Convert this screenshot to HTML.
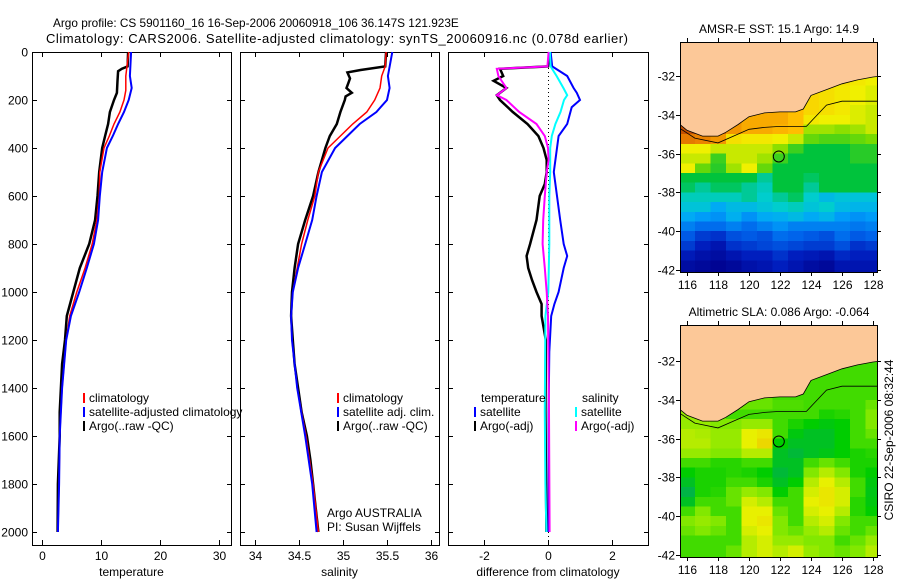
<!DOCTYPE html>
<html><head><meta charset="utf-8"><style>
html,body{margin:0;padding:0;background:#fff;}
svg{display:block;font-family:"Liberation Sans",sans-serif;}
</style></head><body>
<svg id="fig" width="900" height="580" viewBox="0 0 900 580"></svg>
<script>
// ---------- data ----------
const tDepth = [0,60,70,80,120,170,200,250,300,350,400,500,600,700,800,900,1000,1100,1200,1300,1400,1500,1600,1800,2000];
const tArgo  = [14.6,14.5,13.5,12.9,12.8,12.7,12.2,11.5,11.2,10.7,10.2,9.7,9.4,9.0,8.0,6.4,5.3,4.2,3.9,3.4,3.2,3.0,3.0,2.7,2.65];
const tClimDepth = [0,100,160,200,250,300,350,400,500,600,700,800,900,1000,1100,1200,1400,1600,1800,2000];
const tClim  = [14.7,14.2,14.2,13.9,13.2,12.2,11.4,10.5,9.8,9.7,9.3,8.5,7.3,5.9,4.7,4.1,3.4,3.0,2.9,2.7];
const tSatDepth = [0,100,150,200,250,300,350,400,500,600,700,800,900,1000,1100,1200,1400,1600,1800,2000];
const tSat   = [15.1,14.9,15.2,14.7,13.9,12.9,12.0,11.0,10.2,9.8,9.5,8.8,7.6,6.3,4.9,4.1,3.4,3.0,2.9,2.7];

const sArgoDepth = [0,60,75,85,110,130,150,170,185,200,250,300,350,400,500,600,700,800,900,1000,1100,1200,1300,1400,1500,1600,1700,1800,1900,2000];
const sArgo  = [35.49,35.48,35.2,35.05,35.08,35.06,35.04,35.1,35.03,35.02,34.97,34.93,34.85,34.8,34.72,34.66,34.57,34.49,34.45,34.42,34.41,34.43,34.45,34.49,34.53,34.59,34.63,34.66,34.69,34.72];
const sClimDepth = [0,60,100,150,200,250,300,350,400,500,600,700,800,900,1000,1100,1200,1400,1600,1800,2000];
const sClim  = [35.49,35.48,35.44,35.42,35.36,35.27,35.11,34.97,34.83,34.72,34.68,34.6,34.53,34.48,34.43,34.41,34.42,34.48,34.58,34.66,34.72];
const sSatDepth = [0,100,150,200,250,300,350,400,500,600,700,800,900,1000,1100,1200,1400,1600,1800,2000];
const sSat   = [35.56,35.51,35.53,35.5,35.38,35.19,35.05,34.91,34.76,34.7,34.65,34.57,34.49,34.43,34.41,34.42,34.48,34.57,34.65,34.7];

const dTempArgoDepth = [0,60,70,100,120,150,180,200,250,300,350,400,450,500,550,600,700,800,850,900,950,1000,1050,1100,1200,1500,2000];
const dTempArgo = [0.04,0.0,-1.5,-1.4,-1.7,-1.3,-1.6,-1.5,-1.1,-0.64,-0.3,-0.14,-0.04,-0.04,-0.1,-0.26,-0.36,-0.56,-0.67,-0.62,-0.5,-0.36,-0.2,-0.2,-0.07,-0.08,-0.05];
const dTempSatDepth = [0,60,100,150,170,200,230,300,350,400,500,600,700,800,850,900,1000,1050,1100,1250,1500,2000];
const dTempSat = [0.08,0.13,0.6,0.8,0.9,1.0,0.74,0.6,0.33,0.28,0.18,0.28,0.38,0.49,0.6,0.49,0.33,0.2,0.1,0.04,0.02,0.02];
const dSalSatDepth = [0,60,100,150,180,200,250,300,350,400,500,600,800,1000,1100,1500,1800,2000];
const dSalSat = [0.06,0.08,0.27,0.48,0.6,0.5,0.39,0.23,0.12,0.07,0.07,0.04,0.04,0.01,-0.08,-0.1,-0.08,-0.05];
const dSalArgoDepth = [0,60,70,100,120,150,180,200,250,300,350,400,450,500,600,700,800,900,1000,1100,1500,2000];
const dSalArgo = [0.02,-0.02,-1.6,-1.55,-1.45,-1.3,-1.6,-1.3,-0.9,-0.36,-0.1,0.0,0.02,-0.04,-0.1,-0.15,-0.17,-0.1,-0.04,0.0,0.03,0.05];

const depthTicks = [0,200,400,600,800,1000,1200,1400,1600,1800,2000];
const tempTicks = [0,10,20,30];
const salTicks = [34,34.5,35,35.5,36];
const salTickLabels = ["34","34.5","35","35.5","36"];
const diffTicks = [-2,0,2];
const lonTicks = [116,118,120,122,124,126,128];
const latTicks = [-32,-34,-36,-38,-40,-42];

const mapLons = [116,117,118,119,120,121,122,123,124,125,126,127,128];
const sstGrid = [
[17,17,17,17,17,17,17,17,17,16.6,16.4,16.3,16.2],
[17,17,17,17,17,17,17,17,16.5,16.4,16.3,16.2,16.1],
[17,17,17,17,17,17,17,17,16.5,16.4,16.3,16.2,16.1],
[17,17,17,17,17,17,17,16.8,16.5,16.4,16.3,16.1,16],
[17.6,17.6,17.5,17.2,17,17,17,16.8,16.3,16.2,16.2,16.1,16],
[18,18,17.8,17.2,17,17,16.9,16.8,15.8,15.8,15.7,15.8,16],
[17.5,17.4,17.2,16.4,16.3,16.3,16.2,16.0,15.5,15.4,15.4,15.5,15.6],
[16.2,16.2,16.0,16,16,16,15.7,15.3,15,15,15,15.2,15.2],
[16,16,15.3,16,16,15.8,15.3,15,15,15,15,15.2,15.2],
[16.2,15.5,15.2,15.8,16.2,15.5,15,15,15,15,15,15,15],
[15,15,15,15,15,14.5,15,15,14.8,15,15,15,15],
[14.8,14.5,14.8,14.8,14.5,14.3,15,15,14.5,15,15,15,15],
[14.3,14.3,14.3,14.3,14.5,14.2,14.5,14.8,14.2,13.8,14,14,14],
[14,14,13.5,13.8,13.8,14,14.2,14.3,14,14.2,13.8,13.7,13.7],
[13.5,13.3,13.2,13.6,13.2,13.5,13.6,13.8,13.5,13.7,13.3,13.2,13.3],
[13,12.8,12.8,13,12.8,13,13.2,13,13,13,13,12.9,13],
[12.6,12.3,12.2,12.5,12.6,12.5,12.8,12.7,12.6,12.5,12.8,12.6,12.7],
[12.3,12,11.8,12.2,12.3,12.4,12.5,12.4,12.3,12.3,12.5,12.2,12.3],
[11.9,11.7,11.6,11.8,12,12,12.2,12,11.9,11.8,12.1,12,12],
[11.6,11.5,11.4,11.5,11.7,11.8,12,11.8,11.6,11.5,11.8,11.8,11.8],
[11.5,11.4,11.4,11.5,11.6,11.7,11.9,11.7,11.5,11.4,11.7,11.7,11.7]];
const slaGrid = [
[0.05,0.05,0.05,0.05,0.05,0.05,0.05,0.05,0.05,0.05,0.05,0.05,0.05],
[0.05,0.05,0.05,0.05,0.05,0.05,0.05,0.05,0.05,0.05,0.05,0.05,0.05],
[0.05,0.05,0.05,0.05,0.05,0.05,0.05,0.05,0.05,0.05,0.05,0.05,0.05],
[0.08,0.08,0.08,0.08,0.08,0.08,0.05,0.05,0.05,0.05,0.05,0.05,0.05],
[0.1,0.1,0.1,0.1,0.08,0.08,0.06,0.06,0.05,0.05,0.05,0.05,0.08],
[0.12,0.1,0.08,0.05,0.05,0.05,0.05,0.05,0.05,0.02,0.03,0.05,0.1],
[0.12,0.12,0.1,0.1,0.12,0.12,0.05,0.02,0.0,-0.02,0.0,0.05,0.1],
[0.15,0.14,0.12,0.12,0.2,0.22,0.05,-0.02,-0.05,-0.05,0,0.05,0.08],
[0.15,0.15,0.12,0.12,0.2,0.25,0.0,-0.05,-0.05,-0.05,0.0,0.05,0.05],
[0.12,0.12,0.1,0.1,0.15,0.15,-0.05,-0.08,-0.05,-0.03,0,0.02,0.03],
[0.05,0.05,0.03,0.03,0.05,0.05,-0.05,-0.05,0.05,0.08,0.05,0.02,0.02],
[0,0.02,0.02,0.03,0.02,0,-0.08,-0.05,0.1,0.15,0.1,0.02,0.0],
[-0.05,0.02,0.02,0.05,0.05,0.02,-0.05,0.0,0.15,0.2,0.15,0.05,-0.02],
[-0.1,0.02,0.03,0.08,0.12,0.1,0.0,0.05,0.18,0.22,0.18,0.05,-0.03],
[-0.05,0.05,0.05,0.08,0.18,0.15,0.05,0.05,0.2,0.22,0.18,0.03,-0.02],
[0.05,0.1,0.05,0.05,0.2,0.2,0.08,0.05,0.18,0.2,0.15,0.03,0.0],
[0.1,0.12,0.1,0.05,0.2,0.22,0.1,0.05,0.15,0.18,0.1,0.05,0.05],
[0.08,0.1,0.08,0.05,0.18,0.2,0.1,0.08,0.12,0.15,0.08,0.05,0.08],
[0.05,0.05,0.05,0.05,0.15,0.18,0.12,0.12,0.1,0.1,0.05,0.08,0.12],
[0.05,0.05,0.05,0.08,0.15,0.18,0.15,0.18,0.12,0.1,0.08,0.1,0.15],
[0.05,0.05,0.05,0.08,0.15,0.18,0.15,0.18,0.12,0.1,0.08,0.1,0.15]];
const coastLon = [115.4,115.55,116,117,118,118.5,119.3,120,121,122,123,123.5,124,125,126,127,128,128.5];
const coastLat = [-34.4,-34.5,-34.8,-35.1,-35.1,-34.9,-34.5,-34.1,-33.9,-33.85,-33.85,-33.7,-33.0,-32.7,-32.4,-32.2,-32.05,-32.0];
const contLon = [115.55,116.5,118,119,120,121,122,123.7,125,126,127,128.3];
const contLat = [-34.7,-35.2,-35.45,-35.1,-34.75,-34.65,-34.6,-34.6,-33.5,-33.3,-33.3,-33.3];
const floatLon = 121.923, floatLat = -36.147;

// ---------- helpers ----------
const NS = "http://www.w3.org/2000/svg";
const svg = document.getElementById('fig');
function el(tag, attrs, parent) {
  const e = document.createElementNS(NS, tag);
  for (const k in attrs) e.setAttribute(k, attrs[k]);
  (parent || svg).appendChild(e);
  return e;
}
function txt(s, x, y, anchor, size, parent) {
  const t = el('text', {x:x, y:y, 'text-anchor':anchor||'start', 'font-size':size||12, fill:'#000'}, parent);
  t.textContent = s;
  return t;
}
const yD = d => 52 + d * 0.24;
const PT = 52, PB = 545;

function panel(name, x0, x1, xs, ticks, tickLabels, xlabel, showDepthLabels) {
  const g = el('g', {});
  
  
  const box = el('rect', {x:x0+0.5, y:PT+0.5, width:x1-x0, height:PB-PT, fill:'none', stroke:'#000', 'stroke-width':1}, g);
  
  
  depthTicks.forEach(d => {
    const y = Math.round(yD(d)) + 0.5;
    el('line', {x1:x0, x2:x0+5, y1:y, y2:y, stroke:'#000'}, g);
    el('line', {x1:x1-4, x2:x1+1, y1:y, y2:y, stroke:'#000'}, g);
    if (showDepthLabels) {
      const t = txt(String(d), x0-4, y+4, 'end', 12, g);
      
      
    }
  });
  ticks.forEach((v, i) => {
    const x = Math.round(xs(v)) + 0.5;
    el('line', {x1:x, x2:x, y1:PB, y2:PB-5, stroke:'#000'}, g);
    el('line', {x1:x, x2:x, y1:PT, y2:PT+5, stroke:'#000'}, g);
    const t = txt(tickLabels[i], x, PB+15, 'middle', 12, g);
    
    
  });
  const xl = txt(xlabel, (x0+x1)/2, 576, 'middle', 12, g);
  
  
  return g;
}
function profile(g, name, depths, vals, xs, color, w) {
  const pts = depths.map((d, i) => xs(vals[i]).toFixed(1) + ',' + yD(d).toFixed(1)).join(' ');
  const p = el('polyline', {points:pts, fill:'none', stroke:color, 'stroke-width':w, 'stroke-linejoin':'miter'}, g);
  
  
}
function legend(g, items, x, y0, dy) {
  items.forEach((it, i) => {
    const y = y0 + i*dy;
    const m = el('rect', {x:x, y:y-9, width:2, height:10, fill:it[1]}, g);
    
    
    const t = txt(it[0], x+6, y, 'start', 12, g);
    
    
  });
}

// ---------- titles ----------
const t1 = txt('Argo profile: CS 5901160_16 16-Sep-2006 20060918_106 36.147S 121.923E', 53, 27, 'start', 11.8);


const t2 = txt('Climatology: CARS2006. Satellite-adjusted climatology: synTS_20060916.nc (0.078d earlier)', 46, 43, 'start', 13);
t2.setAttribute('textLength', 582);
t2.setAttribute('lengthAdjust', 'spacing');



// ---------- temperature panel ----------
const xT = v => 42 + v * 5.9;
const gT = panel('temperature-panel', 32, 231, xT, tempTicks, tempTicks.map(String), 'temperature', true);
profile(gT, 'argo-temperature-line', tDepth, tArgo, xT, '#000', 2.5);
profile(gT, 'climatology-temperature-line', tClimDepth, tClim, xT, '#f00', 1.5);
profile(gT, 'satellite-temperature-line', tSatDepth, tSat, xT, '#00f', 2);
legend(gT, [['climatology','#f00'],['satellite-adjusted climatology','#00f'],['Argo(..raw -QC)','#000']], 83, 402, 14);

// ---------- salinity panel ----------
const xS = v => 255 + (v - 34) * 88;
const gS = panel('salinity-panel', 240, 439, xS, salTicks, salTickLabels, 'salinity', false);
profile(gS, 'argo-salinity-line', sArgoDepth, sArgo, xS, '#000', 2.5);
profile(gS, 'climatology-salinity-line', sClimDepth, sClim, xS, '#f00', 1.5);
profile(gS, 'satellite-salinity-line', sSatDepth, sSat, xS, '#00f', 2);
legend(gS, [['climatology','#f00'],['satellite adj. clim.','#00f'],['Argo(..raw -QC)','#000']], 337, 402, 14);
const a1 = txt('Argo AUSTRALIA', 327, 517, 'start', 12, gS);


const a2 = txt('PI: Susan Wijffels', 327, 531, 'start', 12, gS);



// ---------- difference panel ----------
const xDf = v => 548 + v * 32;
const gD = panel('difference-panel', 448, 648, xDf, diffTicks, diffTicks.map(String), 'difference from climatology', false);
const zl = el('line', {x1:548.5, x2:548.5, y1:PT, y2:PB, stroke:'#000', 'stroke-dasharray':'1,3'}, gD);


profile(gD, 'argo-temperature-diff-line', dTempArgoDepth, dTempArgo, xDf, '#000', 2.5);
profile(gD, 'satellite-temperature-diff-line', dTempSatDepth, dTempSat, xDf, '#00f', 2);
profile(gD, 'satellite-salinity-diff-line', dSalSatDepth, dSalSat, xDf, '#0ff', 2);
profile(gD, 'argo-salinity-diff-line', dSalArgoDepth, dSalArgo, xDf, '#f0f', 2);
const lt = txt('temperature', 481, 402, 'start', 12, gD);


legend(gD, [['satellite','#00f'],['Argo(-adj)','#000']], 474, 416, 14);
const ls = txt('salinity', 582, 402, 'start', 12, gD);


legend(gD, [['satellite','#0ff'],['Argo(-adj)','#f0f']], 575, 416, 14);

// ---------- maps ----------
function ramp(stops, v) {
  if (v <= stops[0][0]) return 'rgb(' + stops[0][1].join(',') + ')';
  for (let i = 1; i < stops.length; i++) {
    if (v <= stops[i][0]) {
      const a = stops[i-1], b = stops[i], t = (v - a[0]) / (b[0] - a[0]);
      return 'rgb(' + a[1].map((c, k) => Math.round(c + (b[1][k] - c) * t)).join(',') + ')';
    }
  }
  return 'rgb(' + stops[stops.length-1][1].join(',') + ')';
}
const sstStops = [[11.3,[0,0,140]],[12,[0,30,190]],[12.7,[0,100,235]],[13.4,[0,165,250]],[14.2,[0,205,205]],[15,[0,195,60]],[15.6,[120,220,0]],[16.2,[240,240,0]],[16.8,[255,190,0]],[17.4,[235,130,0]],[18,[195,80,0]]];
const slaStops = [[-0.2,[0,168,120]],[-0.1,[0,180,70]],[0,[0,205,0]],[0.1,[130,232,0]],[0.2,[232,240,0]],[0.3,[240,190,0]]];

function drawMap(name, top, lat32y, title, grid, colorFn) {
  const xL = lon => 687 + (lon - 116) * 15.5;
  const yL = lat => lat32y + (-32 - lat) * 19.4;
  const X0 = 680, X1 = 877, Y0 = top, Y1 = Math.round(yL(-42)) + 2;
  const g = el('g', {});
  
  
  const cp = el('clipPath', {id: name + '-clip'}, g);
  el('rect', {x:X0, y:Y0, width:X1-X0, height:Y1-Y0}, cp);
  const inner = el('g', {'clip-path':'url(#' + name + '-clip)'}, g);
  el('rect', {x:X0, y:Y0, width:X1-X0, height:Y1-Y0, fill:'#fcc898'}, inner);
  grid.forEach((row, r) => {
    row.forEach((v, c) => {
      const lon = mapLons[c];
      const latTop = -32 - 0.5 * r;
      const x = xL(lon - 0.5), y = yL(latTop);
      const cell = el('rect', {x:x.toFixed(1), y:y.toFixed(1), width:16, height:10.2, fill:colorFn(v), 'shape-rendering':'crispEdges'}, inner);
      
      
    });
  });
  let d = 'M' + xL(115) + ',' + (Y0-5);
  coastLon.forEach((lo, i) => { d += ' L' + xL(lo).toFixed(1) + ',' + yL(coastLat[i]).toFixed(1); });
  d += ' L' + (X1+5) + ',' + yL(-32.0).toFixed(1) + ' L' + (X1+5) + ',' + (Y0-5) + ' Z';
  const land = el('path', {d:d, fill:'#fcc898', stroke:'#000', 'stroke-width':0.8}, inner);
  
  
  const cpts = contLon.map((lo, i) => xL(lo).toFixed(1) + ',' + yL(contLat[i]).toFixed(1)).join(' ');
  const cont = el('polyline', {points:cpts, fill:'none', stroke:'#000', 'stroke-width':0.8}, inner);
  
  
  const fl = el('circle', {cx:xL(floatLon), cy:yL(floatLat), r:5.5, fill:'none', stroke:'#000', 'stroke-width':1}, inner);
  
  
  el('rect', {x:X0+0.5, y:Y0+0.5, width:X1-X0, height:Y1-Y0, fill:'none', stroke:'#000'}, g);
  lonTicks.forEach(lo => {
    const x = Math.round(xL(lo)) + 0.5;
    el('line', {x1:x, x2:x, y1:Y1, y2:Y1+4, stroke:'#000'}, g);
    el('line', {x1:x, x2:x, y1:Y0, y2:Y0-4, stroke:'#000'}, g);
    const t = txt(String(lo), x, Y1+17, 'middle', 12, g);
    
    
  });
  latTicks.forEach(la => {
    const y = Math.round(yL(la)) + 0.5;
    el('line', {x1:X0-4, x2:X0, y1:y, y2:y, stroke:'#000'}, g);
    el('line', {x1:X1, x2:X1+4, y1:y, y2:y, stroke:'#000'}, g);
    const t = txt(String(la), X0-5, y+4, 'end', 12, g);
    
    
  });
  const tt = txt(title, 779, top - 9, 'middle', 12, g);
  
  
}
drawMap('sst-map', 42, 76, 'AMSR-E SST: 15.1 Argo: 14.9', sstGrid, v => ramp(sstStops, v));
drawMap('sla-map', 325, 361, 'Altimetric SLA: 0.086 Argo: -0.064', slaGrid, v => ramp(slaStops, v));

const cs = txt('CSIRO 22-Sep-2006 08:32:44', 0, 0, 'middle', 12);
cs.setAttribute('transform', 'translate(893,440) rotate(-90)');


</script>
</body></html>
